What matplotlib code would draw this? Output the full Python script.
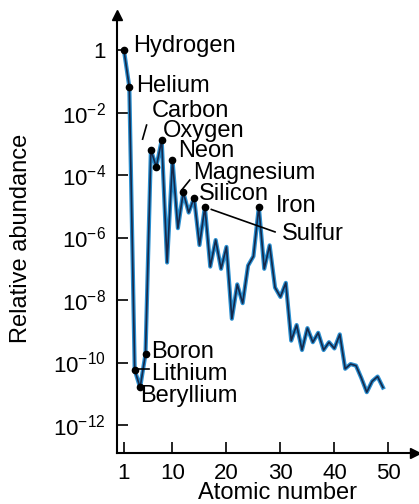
import numpy as np
import matplotlib.pyplot as plt

plt.rcParams['font.family'] = ['Liberation Sans', 'DejaVu Sans']
plt.rcParams['mathtext.fontset'] = 'custom'
plt.rcParams['mathtext.rm'] = 'Liberation Sans'
plt.rcParams['mathtext.it'] = 'Liberation Sans:italic'

# atomic number and log10 of relative abundance
atomic_number = list(range(1, 50))
log_abundance = [0.0, -1.18, -10.24, -10.8, -9.73, -3.2, -3.74, -2.88, -6.8, -3.52,
                 -5.7, -4.55, -5.2, -4.73, -6.24, -5.02, -6.93, -6.08, -7.0, -6.3,
                 -8.6, -7.5, -8.1, -6.9, -6.6, -5.02, -7.0, -6.25, -7.6, -7.9,
                 -7.45, -9.3, -8.8, -9.6, -8.9, -9.35, -9.05, -9.6, -9.35, -9.55,
                 -9.1, -10.2, -10.05, -10.1, -10.5, -10.95, -10.6, -10.45, -10.8]
marked = [1, 2, 3, 4, 5, 6, 7, 8, 10, 12, 14, 16, 26]

labels = ['Hydrogen', 'Helium', 'Carbon', 'Oxygen', 'Neon', 'Magnesium',
          'Silicon', 'Iron', 'Sulfur', 'Boron', 'Lithium', 'Beryllium']
label_x = [2.72, 3.33, 6.13, 8.28, 11.05, 13.83, 14.89, 29.15, 30.19, 6.13, 6.13, 4.09]
label_logy = [-0.05, -1.33, -2.13, -2.79, -3.43, -4.11, -4.8, -5.17, -6.08, -9.87, -10.56, -11.25]

xtick_vals = [1, 10, 20, 30, 40, 50]
ytick_exp = [0, -2, -4, -6, -8, -10, -12]

z = np.array(atomic_number)
y = 10.0 ** np.array(log_abundance)

fig = plt.figure(figsize=(4.19, 5.04), dpi=100)
ax = fig.add_axes([0.279, 0.101, 0.711, 0.869])

ax.plot(z, y, color='#2a8fd0', lw=3.0, zorder=2)
ax.plot(z, y, color='#15284a', lw=1.2, zorder=3)
zm = [atomic_number.index(m) for m in marked]
ax.plot(z[zm], y[zm], 'o', color='black', ms=4.5, zorder=4)

for name, lx, ly in zip(labels, label_x, label_logy):
    ax.text(lx, 10.0 ** ly, name, fontsize=17, va='baseline', ha='left', zorder=5)

# leader lines
leaders = [((4.46, -2.85), (5.2, -2.4)),
           ((11.7, -4.48), (13.2, -4.16)),
           ((17.2, -5.1), (29.0, -5.82)),
           ((3.0, -10.2), (5.6, -10.2))]
for (x0, l0), (x1, l1) in leaders:
    ax.plot([x0, x1], [10.0 ** l0, 10.0 ** l1], color='black', lw=1.2, zorder=4)

ax.set_yscale('log')
ax.set_xlim(-0.3, 54.9)
ax.set_ylim(10.0 ** -12.9, 10.0 ** 1.12)
ax.set_xticks(xtick_vals)
ax.set_xticklabels([str(v) for v in xtick_vals])
ax.set_yticks([10.0 ** e for e in ytick_exp])
ax.set_yticklabels(['1' if e == 0 else r'$10^{%d}$' % e for e in ytick_exp])
ax.minorticks_off()
ax.tick_params(axis='both', direction='in', length=8, width=1.2, labelsize=16)
ax.tick_params(axis='y', pad=8)
ax.tick_params(axis='x', pad=7)

for s in ['top', 'right']:
    ax.spines[s].set_visible(False)
for s in ['left', 'bottom']:
    ax.spines[s].set_linewidth(1.5)

ax.plot(1, 0, '>k', ms=7, transform=ax.transAxes, clip_on=False)
ax.plot(0, 1, '^k', ms=7, transform=ax.transAxes, clip_on=False)

ax.set_xlabel('Atomic number', fontsize=17)
ax.xaxis.set_label_coords(0.54, -0.066)
ax.set_ylabel('Relative abundance', fontsize=17)
ax.yaxis.set_label_coords(-0.285, 0.49)

fig.savefig('out.png', dpi=100)
